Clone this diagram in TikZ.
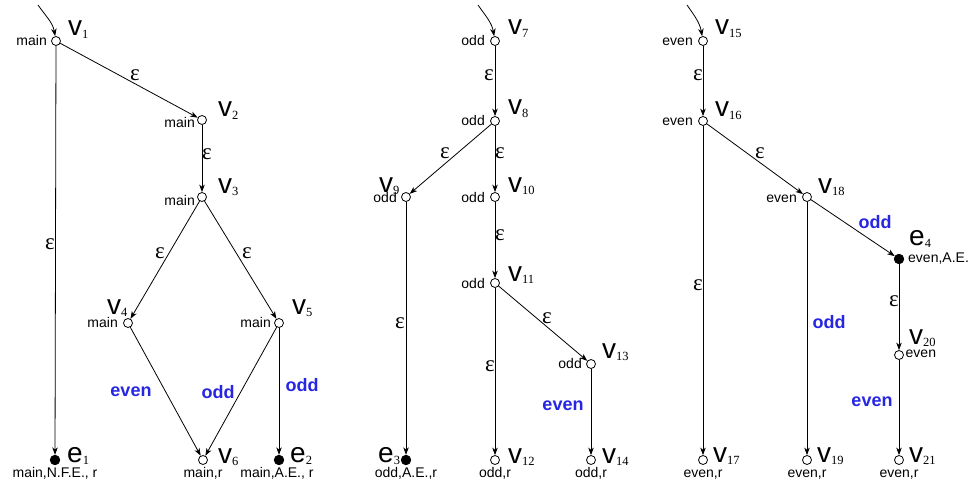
\documentclass[tikz,border=0pt]{standalone}
\usepackage{fontspec}
\setmainfont{Liberation Sans}
\newfontfamily\serifnum{Liberation Serif}
\usetikzlibrary{arrows.meta}
\definecolor{lblue}{RGB}{38,38,228}
\newcommand{\vsub}[2]{{\fontsize{28}{28}\selectfont #1}\raisebox{-2.5pt}{\serifnum\fontsize{12.5}{12.5}\selectfont #2}}
\tikzset{
  st/.style={circle,draw,line width=0.8pt,fill=white,inner sep=0pt,minimum size=9pt},
  fin/.style={circle,draw,line width=0.8pt,fill=black,inner sep=0pt,minimum size=9.5pt},
  vl/.style={inner sep=0pt,anchor=base west},
  ll/.style={inner sep=0pt,anchor=base east,font=\fontsize{14}{14}\selectfont},
  rl/.style={inner sep=0pt,anchor=base west,font=\fontsize{14}{14}\selectfont},
  bl/.style={inner sep=0pt,anchor=base,font=\fontsize{14}{14}\selectfont},
  eps/.style={inner sep=0pt,font=\serifnum\fontsize{23}{23}\selectfont},
  cl/.style={inner sep=0pt,text=lblue,font=\bfseries\fontsize{18}{18}\selectfont},
  ed/.style={line width=0.8pt,-{Stealth[length=7.5pt,width=5.5pt,inset=2.2pt]}},
}
\begin{document}
\begin{tikzpicture}[x=1pt,y=-1pt]
\useasboundingbox[fill=white] (0,0) rectangle (971,484);
% ---------- graph 1 ----------
\node[st] (v1) at (56,41) {};
\node[st] (v2) at (202,120) {};
\node[st] (v3) at (202,197) {};
\node[st] (v4) at (128,323) {};
\node[st] (v5) at (279,323) {};
\node[st] (v6) at (203,460) {};
\node[fin] (e1) at (55,460) {};
\node[fin] (e2) at (279,460) {};
\coordinate (i1) at (38,5);
\draw[ed] (i1) to[out=-55,in=100] (v1);
\draw[ed] (v1) -- (v2);
\draw[ed] (v2) -- (v3);
\draw[ed] (v1) -- (e1);
\draw[ed] (v3) -- (v4);
\draw[ed] (v3) -- (v5);
\draw[ed] (v4) -- (v6);
\draw[ed] (v5) -- (v6);
\draw[ed] (v5) -- (e2);
\node[vl] (lv1) at ([shift={(12,-5)}]v1.center) {\vsub{v}{1}};
\node[vl] (lv2) at ([shift={(16,-3)}]v2.center) {\vsub{v}{2}};
\node[vl] (lv3) at ([shift={(16,-4)}]v3.center) {\vsub{v}{3}};
\node[vl] (lv4) at ([shift={(-21,-9)}]v4.center) {\vsub{v}{4}};
\node[vl] (lv5) at ([shift={(13,-9)}]v5.center) {\vsub{v}{5}};
\node[vl] (lv6) at ([shift={(15,3)}]v6.center) {\vsub{v}{6}};
\node[vl] (le1) at ([shift={(12,2)}]e1.center) {\vsub{e}{1}};
\node[vl] (le2) at ([shift={(11,2)}]e2.center) {\vsub{e}{2}};
\node[ll] (m1) at ([shift={(-9,5)}]v1.center) {main};
\node[ll] (m2) at ([shift={(-7,8)}]v2.center) {main};
\node[ll] (m3) at ([shift={(-7,8)}]v3.center) {main};
\node[ll] (m4) at ([shift={(-10,4)}]v4.center) {main};
\node[ll] (m5) at ([shift={(-8,4)}]v5.center) {main};
\node[bl] (b1) at ([shift={(0,17)}]e1.center) {main,N.F.E., r};
\node[bl] (b6) at ([shift={(0,17)}]v6.center) {main,r};
\node[bl] (b2) at ([shift={(-2,17)}]e2.center) {main,A.E., r};
\node[eps] (x12) at (135,75) {ε};
\node[eps] (x23) at (207,154) {ε};
\node[eps] (x1e) at (50,244) {ε};
\node[eps] (x34) at (160,253) {ε};
\node[eps] (x35) at (247,253) {ε};
\node[cl] (c46) at (131,392) {even};
\node[cl] (c56) at (218,392) {odd};
\node[cl] (c5e) at (302,385) {odd};
% ---------- graph 2 ----------
\node[st] (v7) at (495,41) {};
\node[st] (v8) at (495,121) {};
\node[st] (v9) at (406,197) {};
\node[st] (v10) at (495,197) {};
\node[st] (v11) at (495,283) {};
\node[st] (v13) at (591,364) {};
\node[fin] (e3) at (406,460) {};
\node[st] (v12) at (495,460) {};
\node[st] (v14) at (591,460) {};
\coordinate (i7) at (478,5);
\draw[ed] (i7) to[out=-55,in=100] (v7);
\draw[ed] (v7) -- (v8);
\draw[ed] (v8) -- (v9);
\draw[ed] (v8) -- (v10);
\draw[ed] (v10) -- (v11);
\draw[ed] (v9) -- (e3);
\draw[ed] (v11) -- (v12);
\draw[ed] (v11) -- (v13);
\draw[ed] (v13) -- (v14);
\node[vl] (lv7) at ([shift={(13,-6)}]v7.center) {\vsub{v}{7}};
\node[vl] (lv8) at ([shift={(13,-6)}]v8.center) {\vsub{v}{8}};
\node[vl] (lv9) at ([shift={(-27,-5)}]v9.center) {\vsub{v}{9}};
\node[vl] (lv10) at ([shift={(13,-5)}]v10.center) {\vsub{v}{10}};
\node[vl] (lv11) at ([shift={(13,-2)}]v11.center) {\vsub{v}{11}};
\node[vl] (lv13) at ([shift={(11,-6)}]v13.center) {\vsub{v}{13}};
\node[vl] (lv12) at ([shift={(13,3)}]v12.center) {\vsub{v}{12}};
\node[vl] (lv14) at ([shift={(11,3)}]v14.center) {\vsub{v}{14}};
\node[vl] (le3) at ([shift={(-28,2)}]e3.center) {\vsub{e}{3}};
\node[ll] (o7) at ([shift={(-10,5)}]v7.center) {odd};
\node[ll] (o8) at ([shift={(-10,4)}]v8.center) {odd};
\node[ll] (o9) at ([shift={(-9,5)}]v9.center) {odd};
\node[ll] (o10) at ([shift={(-10,5)}]v10.center) {odd};
\node[ll] (o11) at ([shift={(-10,5)}]v11.center) {odd};
\node[ll] (o13) at ([shift={(-9,4)}]v13.center) {odd};
\node[bl] (b3) at ([shift={(0,17)}]e3.center) {odd,A.E.,r};
\node[bl] (b12) at ([shift={(0,17)}]v12.center) {odd,r};
\node[bl] (b14) at ([shift={(0,17)}]v14.center) {odd,r};
\node[eps] (x78) at (489,75) {ε};
\node[eps] (x89) at (445,153) {ε};
\node[eps] (x810) at (500,153) {ε};
\node[eps] (x1011) at (500,235) {ε};
\node[eps] (x9e) at (400,323) {ε};
\node[eps] (x1112) at (490,366) {ε};
\node[eps] (x1113) at (547,318) {ε};
\node[cl] (c1314) at (563,406) {even};
% ---------- graph 3 ----------
\node[st] (v15) at (703,41) {};
\node[st] (v16) at (703,121) {};
\node[st] (v18) at (807,197) {};
\node[fin] (e4) at (899,259) {};
\node[st] (v20) at (899,355) {};
\node[st] (v17) at (703,460) {};
\node[st] (v19) at (807,460) {};
\node[st] (v21) at (899,460) {};
\coordinate (i15) at (687,5);
\draw[ed] (i15) to[out=-55,in=100] (v15);
\draw[ed] (v15) -- (v16);
\draw[ed] (v16) -- (v18);
\draw[ed] (v16) -- (v17);
\draw[ed] (v18) -- (e4);
\draw[ed] (v18) -- (v19);
\draw[ed] (e4) -- (v20);
\draw[ed] (v20) -- (v21);
\node[vl] (lv15) at ([shift={(12,-6)}]v15.center) {\vsub{v}{15}};
\node[vl] (lv16) at ([shift={(12,-4)}]v16.center) {\vsub{v}{16}};
\node[vl] (lv18) at ([shift={(11,-4)}]v18.center) {\vsub{v}{18}};
\node[vl] (le4) at ([shift={(10,-14)}]e4.center) {\vsub{e}{4}};
\node[vl] (lv20) at ([shift={(10,-11)}]v20.center) {\vsub{v}{20}};
\node[vl] (lv17) at ([shift={(10,2)}]v17.center) {\vsub{v}{17}};
\node[vl] (lv19) at ([shift={(10,2)}]v19.center) {\vsub{v}{19}};
\node[vl] (lv21) at ([shift={(10,2)}]v21.center) {\vsub{v}{21}};
\node[ll] (n15) at ([shift={(-10,5)}]v15.center) {even};
\node[ll] (n16) at ([shift={(-10,4)}]v16.center) {even};
\node[ll] (n18) at ([shift={(-10,5)}]v18.center) {even};
\node[rl] (n4) at ([shift={(9,3)}]e4.center) {even,A.E.};
\node[rl] (n20) at ([shift={(6.5,2)}]v20.center) {even};
\node[bl] (b17) at ([shift={(0,17)}]v17.center) {even,r};
\node[bl] (b19) at ([shift={(0,17)}]v19.center) {even,r};
\node[bl] (b21) at ([shift={(0,17)}]v21.center) {even,r};
\node[eps] (x1516) at (698,75) {ε};
\node[eps] (x1618) at (760,153) {ε};
\node[eps] (x1617) at (698,285) {ε};
\node[eps] (x4e20) at (894,301) {ε};
\node[cl] (c18e) at (875,222) {odd};
\node[cl] (c1819) at (829,322) {odd};
\node[cl] (c2021) at (872,402) {even};
\end{tikzpicture}
\end{document}
